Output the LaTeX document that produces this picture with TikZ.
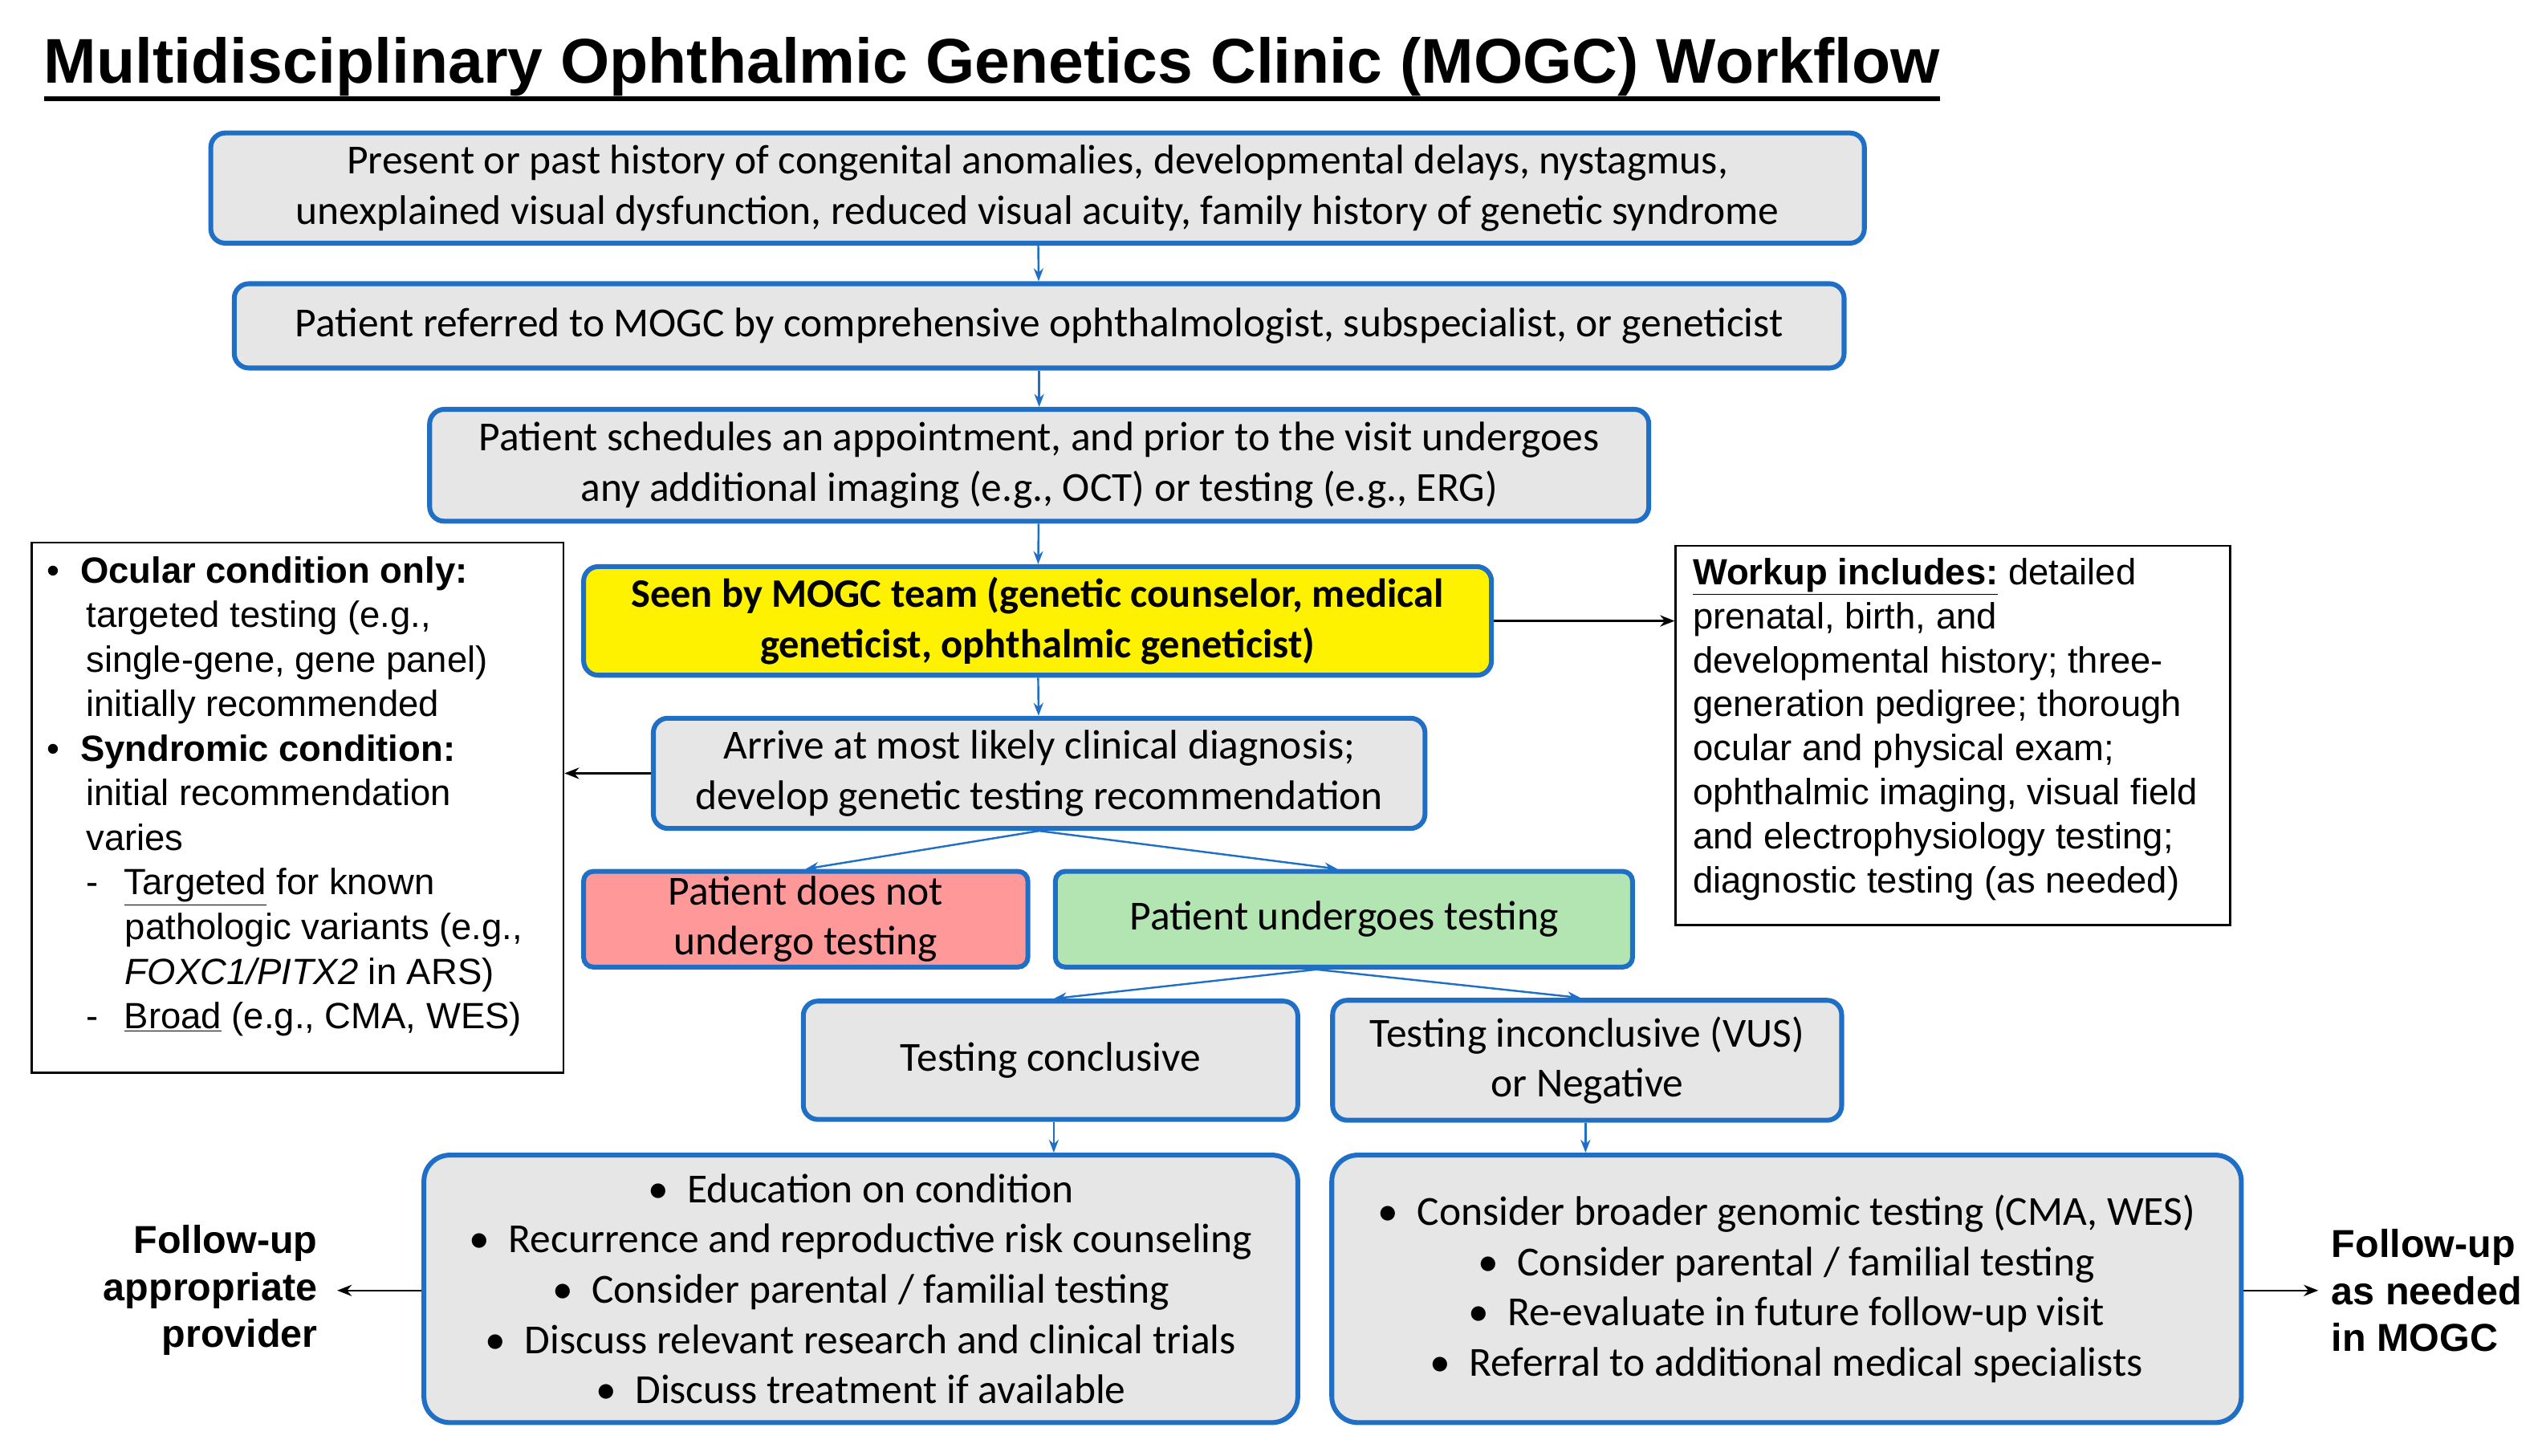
\documentclass[tikz,border=0pt]{standalone}
\usepackage{fontspec}
\setmainfont{Carlito}
\newfontfamily\arial{Liberation Sans}
\usetikzlibrary{arrows.meta}
\definecolor{bb}{HTML}{1F6FC6}
\definecolor{gb}{HTML}{E7E6E6}
\begin{document}
\begin{tikzpicture}[x=1pt,y=-1pt,
 box/.style={draw=bb,line width=3pt,rounded corners=9pt,fill=gb,align=center,font=\fontsize{25.5}{31}\selectfont,inner sep=0pt},
 side/.style={draw=black,line width=1.2pt,align=left,inner sep=0pt,anchor=north west},
 ba/.style={draw=bb,line width=1.2pt,-{Stealth[length=8pt,width=6pt]}},
 ka/.style={draw=black,line width=1.2pt,-{Stealth[length=9pt,width=7pt]}}]
\useasboundingbox (0,0) rectangle (1568,898);
\node[font=\arial\bfseries\fontsize{39}{44}\selectfont,anchor=west,inner sep=0pt] (title) at (27,41) {Multidisciplinary Ophthalmic Genetics Clinic (MOGC) Workflow};
\draw[line width=3pt] (27,61) -- (title.east |- 0,61);
\node[box,minimum width=1020pt,minimum height=68pt] (a) at (640,116) {Present or past history of congenital anomalies, developmental delays, nystagmus,\\unexplained visual dysfunction, reduced visual acuity, family history of genetic syndrome};
\node[box,minimum width=993pt,minimum height=52pt] (b) at (641,201) {Patient referred to MOGC by comprehensive ophthalmologist, subspecialist, or geneticist};
\node[box,minimum width=752pt,minimum height=69pt] (c) at (641,287) {Patient schedules an appointment, and prior to the visit undergoes\\any additional imaging (e.g., OCT) or testing (e.g., ERG)};
\node[box,fill=yellow,font=\bfseries\fontsize{25}{31}\selectfont,minimum width=560pt,minimum height=67pt] (d) at (640,383) {Seen by MOGC team (genetic counselor, medical\\geneticist, ophthalmic geneticist)};
\node[box,minimum width=476pt,minimum height=68pt] (e) at (641,477) {Arrive at most likely clinical diagnosis;\\develop genetic testing recommendation};
\node[box,fill=red!40,minimum width=274pt,minimum height=59pt,rounded corners=6pt] (f) at (497,567) {Patient does not\\undergo testing};
\node[box,fill=green!50!gray!40,minimum width=356pt,minimum height=59pt,rounded corners=6pt] (g) at (829,567) {Patient undergoes testing};
\node[box,minimum width=305pt,minimum height=73pt] (h) at (648,654) {Testing conclusive};
\node[box,minimum width=314pt,minimum height=74pt] (i) at (979,654) {Testing inconclusive (VUS)\\or Negative};
\node[box,minimum width=539pt,minimum height=165pt,rounded corners=16pt] (j) at (531,795) {\textbullet\ \ Education on condition\\\textbullet\ \ Recurrence and reproductive risk counseling\\\textbullet\ \ Consider parental / familial testing\\\textbullet\ \ Discuss relevant research and clinical trials\\\textbullet\ \ Discuss treatment if available};
\node[box,minimum width=561pt,minimum height=165pt,rounded corners=16pt] (k) at (1102,795) {\textbullet\ \ Consider broader genomic testing (CMA, WES)\\\textbullet\ \ Consider parental / familial testing\\\textbullet\ \ Re-evaluate in future follow-up visit\\\textbullet\ \ Referral to additional medical specialists};
\node[side,minimum width=328pt,minimum height=327pt] (l) at (19,334) {};
\node[anchor=north west,align=left,font=\arial\fontsize{22.5}{27.5}\selectfont,inner sep=0pt] (lt) at (29,343) {%
\textbullet\ \ \textbf{Ocular condition only:}\\
\hspace*{24pt}targeted testing (e.g.,\\
\hspace*{24pt}single-gene, gene panel)\\
\hspace*{24pt}initially recommended\\
\textbullet\ \ \textbf{Syndromic condition:}\\
\hspace*{24pt}initial recommendation\\
\hspace*{24pt}varies\\
\hspace*{24pt}-\hspace*{16pt}\underline{Targeted} for known\\
\hspace*{48pt}pathologic variants (e.g.,\\
\hspace*{48pt}\textit{FOXC1/PITX2} in ARS)\\
\hspace*{24pt}-\hspace*{16pt}\underline{Broad} (e.g., CMA, WES)};
\node[side,minimum width=342pt,minimum height=234pt] (m) at (1033,336) {};
\node[anchor=north west,align=left,font=\arial\fontsize{22.5}{27.2}\selectfont,inner sep=0pt] (mt) at (1044,344) {%
\textbf{\underline{Workup includes:}} detailed\\prenatal, birth, and\\developmental history; three-\\generation pedigree; thorough\\ocular and physical exam;\\ophthalmic imaging, visual field\\and electrophysiology testing;\\diagnostic testing (as needed)};
\node[align=right,anchor=east,font=\arial\bfseries\fontsize{24}{29}\selectfont,inner sep=0pt] (fl) at (196,796) {Follow-up\\appropriate\\provider};
\node[align=left,anchor=west,font=\arial\bfseries\fontsize{24}{29}\selectfont,inner sep=0pt] (fr) at (1438,796) {Follow-up\\as needed\\in MOGC};
\draw[ba] (a) -- (b);
\draw[ba] (b) -- (c);
\draw[ba] (c) -- (d);
\draw[ba] (d) -- (e);
\draw[ba] (e.south) -- (f.north);
\draw[ba] (e.south) -- (g.north -| 825,0);
\draw[ba] (g.south -| 812,0) -- (h.north -| 650,0);
\draw[ba] (g.south -| 812,0) -- (i.north -| 975,0);
\draw[ba] (h.south -| 650,0) -- (j.north -| 650,0);
\draw[ba] (i.south -| 978,0) -- (k.north -| 978,0);
\draw[ka] (d.east) -- (m.west |- d.east);
\draw[ka] (e.west) -- (l.east |- e.west);
\draw[ka] (j.west |- 0,796) -- (208,796);
\draw[ka] (k.east |- 0,796) -- (1430,796);
\end{tikzpicture}
\end{document}
